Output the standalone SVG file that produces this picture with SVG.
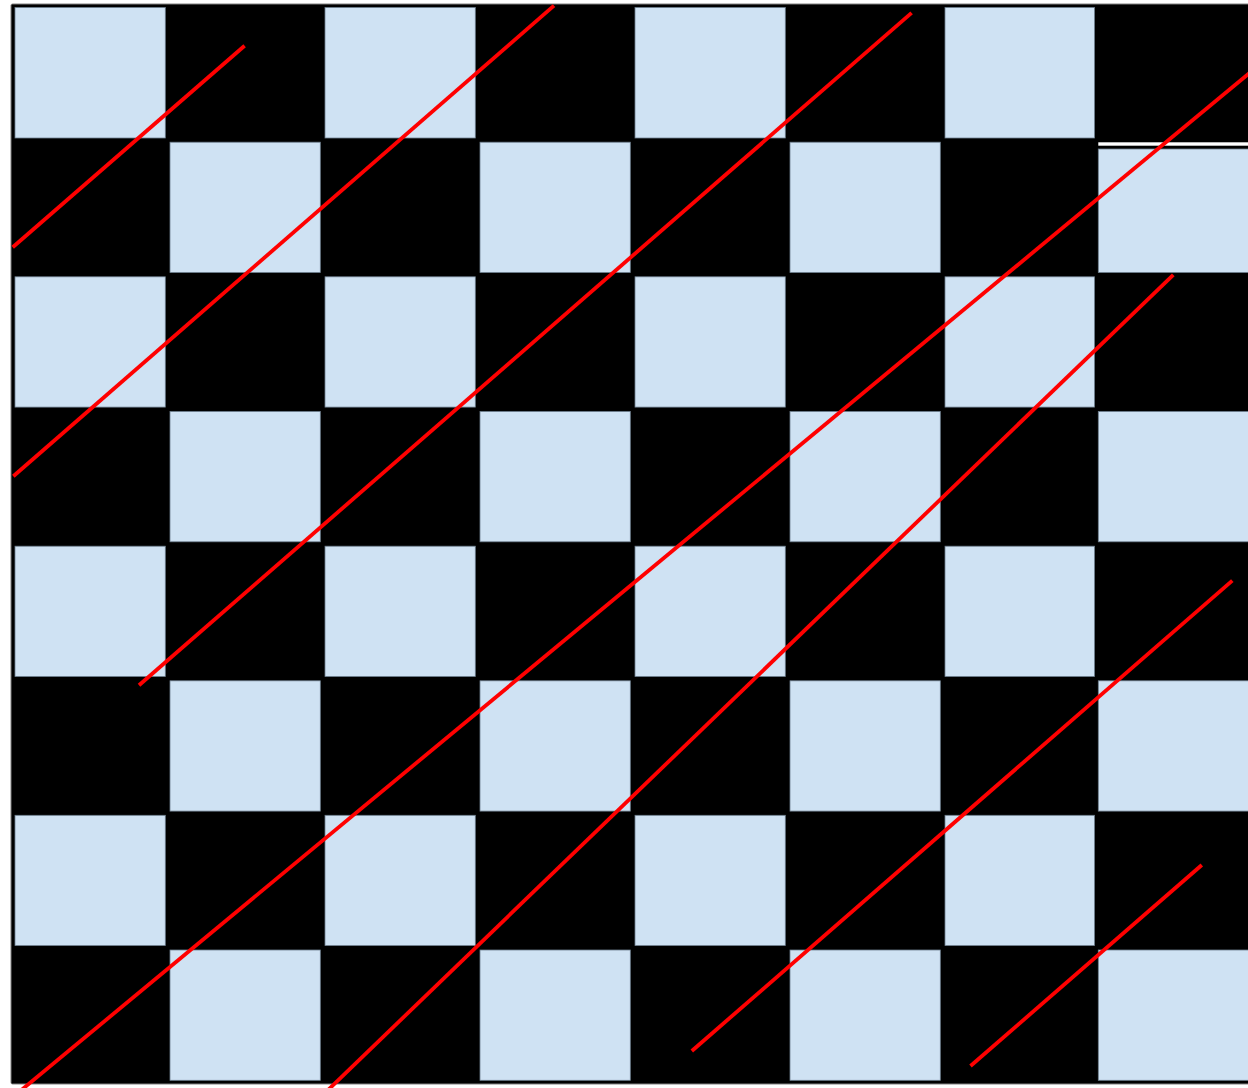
<svg xmlns="http://www.w3.org/2000/svg" width="1248" height="1088" viewBox="0 0 1248 1088">
<style>
.c{fill:#cfe2f3;stroke:#6e7f8e;stroke-width:0.8}
.r{stroke:#ff0000;stroke-width:3.8;fill:none}
</style>
<rect x="0" y="0" width="1248" height="1088" fill="#ffffff"/>
<g id="board">
<rect x="11" y="4" width="1250" height="1080" rx="1.5" fill="#000000" stroke="#808080" stroke-width="1"/>
</g>
<g id="cells">
<rect class="c" x="15" y="7.5" width="150.3" height="130.5"/>
<rect class="c" x="325" y="7.5" width="150.3" height="130.5"/>
<rect class="c" x="635" y="7.5" width="150.3" height="130.5"/>
<rect class="c" x="945" y="7.5" width="149.5" height="130.5"/>

<rect class="c" x="170" y="142.2" width="150.3" height="130.3"/>
<rect class="c" x="480" y="142.2" width="150.3" height="130.3"/>
<rect class="c" x="790" y="142.2" width="150.3" height="130.3"/>
<rect x="1098.3" y="142.3" width="152" height="3.4" fill="#ffffff"/>
<rect class="c" x="1098.3" y="149" width="152" height="123.5"/>

<rect class="c" x="15" y="276.8" width="150.3" height="130.3"/>
<rect class="c" x="325" y="276.8" width="150.3" height="130.3"/>
<rect class="c" x="635" y="276.8" width="150.3" height="130.3"/>
<rect class="c" x="945" y="276.8" width="149.5" height="130.3"/>

<rect class="c" x="170" y="411.5" width="150.3" height="130.3"/>
<rect class="c" x="480" y="411.5" width="150.3" height="130.3"/>
<rect class="c" x="790" y="411.5" width="150.3" height="130.3"/>
<rect class="c" x="1098.3" y="411.5" width="152" height="130.3"/>

<rect class="c" x="15" y="546.2" width="150.3" height="130.3"/>
<rect class="c" x="325" y="546.2" width="150.3" height="130.3"/>
<rect class="c" x="635" y="546.2" width="150.3" height="130.3"/>
<rect class="c" x="945" y="546.2" width="149.5" height="130.3"/>

<rect class="c" x="170" y="680.8" width="150.3" height="130.3"/>
<rect class="c" x="480" y="680.8" width="150.3" height="130.3"/>
<rect class="c" x="790" y="680.8" width="150.3" height="130.3"/>
<rect class="c" x="1098.3" y="680.8" width="152" height="130.3"/>

<rect class="c" x="15" y="815.3" width="150.3" height="130.3"/>
<rect class="c" x="325" y="815.3" width="150.3" height="130.3"/>
<rect class="c" x="635" y="815.3" width="150.3" height="130.3"/>
<rect class="c" x="945" y="815.3" width="149.5" height="130.3"/>

<rect class="c" x="170" y="950" width="150.3" height="130.3"/>
<rect class="c" x="480" y="950" width="150.3" height="130.3"/>
<rect class="c" x="790" y="950" width="150.3" height="130.3"/>
<rect class="c" x="1098.3" y="950" width="152" height="130.3"/>
</g>
<g id="lines">
<line class="r" x1="12.7" y1="247.3" x2="244.6" y2="45.7"/>
<line class="r" x1="13.3" y1="476.3" x2="554" y2="5.6"/>
<line class="r" x1="139" y1="685.3" x2="911.6" y2="12.9"/>
<line class="r" x1="19" y1="1092" x2="1252" y2="71"/>
<line class="r" x1="326" y1="1092" x2="1173.3" y2="274.8"/>
<line class="r" x1="691.8" y1="1051" x2="1232.3" y2="580.6"/>
<line class="r" x1="970.5" y1="1066" x2="1201.8" y2="865"/>
</g>
</svg>
